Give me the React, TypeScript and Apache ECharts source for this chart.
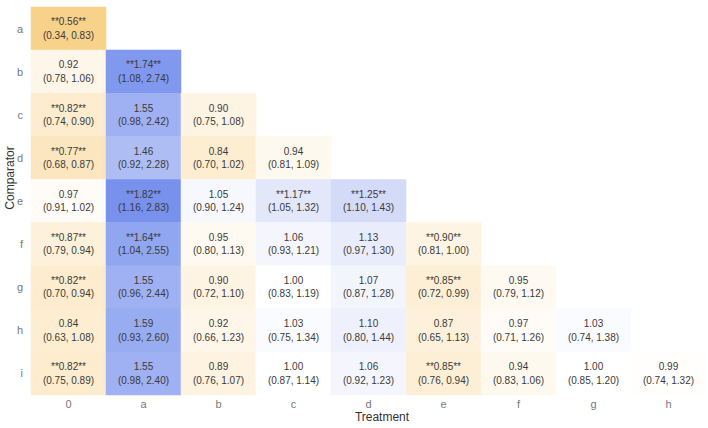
import React, { useEffect, useRef } from "react";
import * as echarts from "echarts";

const treatments = ["0", "a", "b", "c", "d", "e", "f", "g", "h"];
const comparators = ["a", "b", "c", "d", "e", "f", "g", "h", "i"];

// per comparator row, values for treatments 0..(row index)
const estimates: number[][] = [
  [0.56],
  [0.92, 1.74],
  [0.82, 1.55, 0.90],
  [0.77, 1.46, 0.84, 0.94],
  [0.97, 1.82, 1.05, 1.17, 1.25],
  [0.87, 1.64, 0.95, 1.06, 1.13, 0.90],
  [0.82, 1.55, 0.90, 1.00, 1.07, 0.85, 0.95],
  [0.84, 1.59, 0.92, 1.03, 1.10, 0.87, 0.97, 1.03],
  [0.82, 1.55, 0.89, 1.00, 1.06, 0.85, 0.94, 1.00, 0.99],
];
const lowers: number[][] = [
  [0.34],
  [0.78, 1.08],
  [0.74, 0.98, 0.75],
  [0.68, 0.92, 0.70, 0.81],
  [0.91, 1.16, 0.90, 1.05, 1.10],
  [0.79, 1.04, 0.80, 0.93, 0.97, 0.81],
  [0.70, 0.96, 0.72, 0.83, 0.87, 0.72, 0.79],
  [0.63, 0.93, 0.66, 0.75, 0.80, 0.65, 0.71, 0.74],
  [0.75, 0.98, 0.76, 0.87, 0.92, 0.76, 0.83, 0.85, 0.74],
];
const uppers: number[][] = [
  [0.83],
  [1.06, 2.74],
  [0.90, 2.42, 1.08],
  [0.87, 2.28, 1.02, 1.09],
  [1.02, 2.83, 1.24, 1.32, 1.43],
  [0.94, 2.55, 1.13, 1.21, 1.30, 1.00],
  [0.94, 2.44, 1.10, 1.19, 1.28, 0.99, 1.12],
  [1.08, 2.60, 1.23, 1.34, 1.44, 1.13, 1.26, 1.38],
  [0.89, 2.40, 1.07, 1.14, 1.23, 0.94, 1.06, 1.20, 1.32],
];
const significant: boolean[][] = [
  [true],
  [false, true],
  [true, false, false],
  [true, false, false, false],
  [false, true, false, true, true],
  [true, true, false, false, false, true],
  [true, false, false, false, false, true, false],
  [false, false, false, false, false, false, false, false],
  [true, false, false, false, false, true, false, false, false],
];

export default function App() {
  const ref = useRef<HTMLDivElement>(null);
  useEffect(() => {
    if (!ref.current) return;
    const chart = echarts.init(ref.current, undefined, { renderer: "svg" });
    const data: any[] = [];
    estimates.forEach((row, yi) => {
      row.forEach((v, xi) => {
        data.push({ value: [xi, yi, v], yi, xi });
      });
    });
    const font = "'Liberation Sans', Arial, Helvetica, sans-serif";
    chart.setOption({
      animation: false,
      grid: { left: 31, right: 2, top: 7, bottom: 33 },
      xAxis: {
        type: "category",
        data: treatments,
        axisLine: { show: false },
        axisTick: { show: false },
        splitLine: { show: false },
        axisLabel: { color: "#777", fontSize: 11, margin: 3, fontFamily: font },
      },
      yAxis: {
        type: "category",
        data: comparators,
        inverse: true,
        axisLine: { show: false },
        axisTick: { show: false },
        splitLine: { show: false },
        axisLabel: { color: "#777", fontSize: 11, margin: 8, fontFamily: font },
      },
      visualMap: {
        show: false,
        min: 0.5,
        max: 2.0,
        dimension: 2,
        inRange: {
          color: ["#F7CB7C", "#FCE4B9", "#FFFFFF", "#D4DBF8", "#A7B8F3", "#7E97EE", "#6583EA"],
        },
      },
      series: [
        {
          type: "heatmap",
          data,
          itemStyle: { borderWidth: 0 },
          label: {
            show: true,
            color: "#3a3a3a",
            fontSize: 10,
            lineHeight: 13.5,
            fontFamily: font,
            formatter: (p: any) => {
              const d = p.data;
              const v = estimates[d.yi][d.xi].toFixed(2);
              const l = lowers[d.yi][d.xi].toFixed(2);
              const u = uppers[d.yi][d.xi].toFixed(2);
              const s = significant[d.yi][d.xi] ? `**${v}**` : v;
              return `${s}\n(${l}, ${u})`;
            },
          },
        },
      ],
      graphic: [
        {
          type: "text",
          x: 382,
          y: 417,
          style: {
            text: "Treatment",
            fill: "#333",
            fontSize: 12,
            fontFamily: font,
            align: "center",
            verticalAlign: "middle",
          },
        },
        {
          type: "text",
          x: 10,
          y: 178,
          rotation: Math.PI / 2,
          style: {
            text: "Comparator",
            fill: "#333",
            fontSize: 12,
            fontFamily: font,
            align: "center",
            verticalAlign: "middle",
          },
        },
      ],
    });
    return () => chart.dispose();
  }, []);
  return <div ref={ref} style={{ width: 708, height: 428, position: "absolute", left: 0, top: 0 }} />;
}
